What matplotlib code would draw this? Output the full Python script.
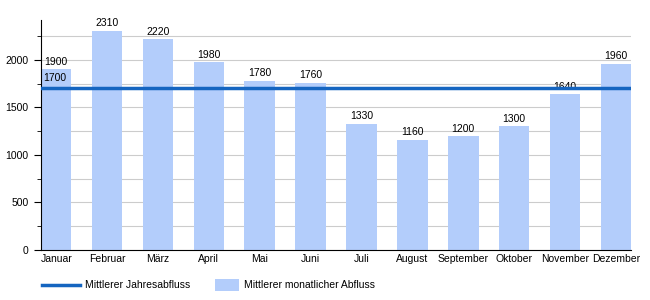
import matplotlib.pyplot as plt
from matplotlib.lines import Line2D
from matplotlib.patches import Rectangle
from matplotlib.ticker import MultipleLocator

plt.rcParams['font.family'] = ['Liberation Sans', 'DejaVu Sans']
plt.rcParams['font.size'] = 7.5

months = ["Januar", "Februar", "März", "April", "Mai", "Juni", "Juli",
          "August", "September", "Oktober", "November", "Dezember"]
monthly_flow = [1900, 2310, 2220, 1980, 1780, 1760, 1330, 1160, 1200, 1300, 1640, 1960]
annual_flow = 1700
legend_labels = ["Mittlerer Jahresabfluss", "Mittlerer monatlicher Abfluss"]

bar_color = "#b3cdfb"
line_color = "#1565c0"

fig = plt.figure(figsize=(6.5, 3), dpi=100)
ax = fig.add_axes([0.063, 0.167, 0.908, 0.766])

x = range(len(months))
ax.bar(x, monthly_flow, width=0.6, color=bar_color, zorder=2)
for i, v in zip(x, monthly_flow):
    ax.text(i, v + 25, str(v), ha="center", va="bottom")

ax.axhline(annual_flow, color=line_color, lw=2.5, zorder=3)
ax.text(-0.26, annual_flow + 55, str(annual_flow), ha="left", va="bottom", zorder=4)

ax.set_xlim(-0.3, len(months) - 0.7)
ax.set_ylim(0, 2420)
ax.yaxis.set_major_locator(MultipleLocator(500))
ax.yaxis.set_minor_locator(MultipleLocator(250))
ax.grid(axis="y", which="both", color="#cccccc", lw=0.8, zorder=0)
ax.set_xticks(list(x))
ax.set_xticklabels(months)
ax.tick_params(axis="x", length=0, pad=3)
ax.tick_params(axis="y", which="major", length=5, pad=4)
ax.tick_params(axis="y", which="minor", length=3)
for s in ["top", "right"]:
    ax.spines[s].set_visible(False)

# legend drawn by hand: line handle is longer than the patch handle
ly = 1 - 285 / 300
fig.add_artist(Line2D([42 / 650, 80 / 650], [ly, ly], color=line_color, lw=2.5))
fig.text(85 / 650, ly, legend_labels[0], va="center", ha="left")
fig.add_artist(Rectangle((215 / 650, 1 - 291 / 300), 24 / 650, 12 / 300,
                         facecolor=bar_color, edgecolor="none"))
fig.text(244 / 650, ly, legend_labels[1], va="center", ha="left")

fig.savefig("out.png", dpi=100)
